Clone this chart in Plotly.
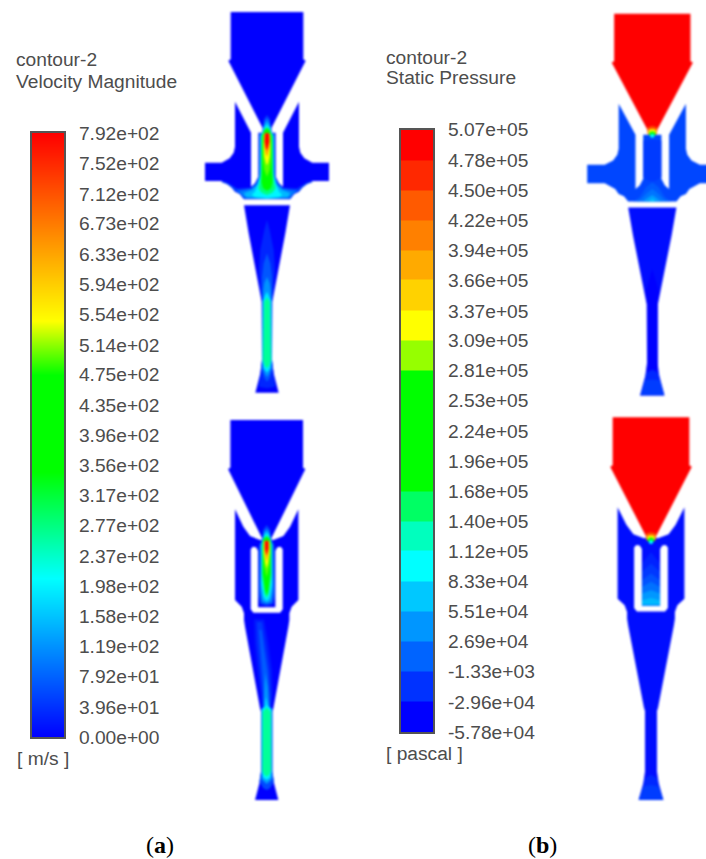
import plotly.graph_objects as go

# ---------- colour bar data ----------
VEL_LABELS = ["7.92e+02","7.52e+02","7.12e+02","6.73e+02","6.33e+02","5.94e+02","5.54e+02","5.14e+02",
              "4.75e+02","4.35e+02","3.96e+02","3.56e+02","3.17e+02","2.77e+02","2.37e+02","1.98e+02",
              "1.58e+02","1.19e+02","7.92e+01","3.96e+01","0.00e+00"]
PRES_LABELS = ["5.07e+05","4.78e+05","4.50e+05","4.22e+05","3.94e+05","3.66e+05","3.37e+05","3.09e+05",
               "2.81e+05","2.53e+05","2.24e+05","1.96e+05","1.68e+05","1.40e+05","1.12e+05","8.33e+04",
               "5.51e+04","2.69e+04","-1.33e+03","-2.96e+04","-5.78e+04"]
VEL_VALUES = [float(s) for s in VEL_LABELS]
PRES_VALUES = [float(s) for s in PRES_LABELS]
PRES_BANDS = ["rgb(255,0,0)","rgb(255,40,0)","rgb(255,90,0)","rgb(255,128,0)","rgb(255,170,0)","rgb(255,210,0)",
              "rgb(255,255,0)","rgb(150,255,0)","rgb(0,255,0)","rgb(0,255,0)","rgb(0,255,0)","rgb(0,255,0)",
              "rgb(0,255,100)","rgb(0,255,190)","rgb(0,255,255)","rgb(0,200,255)","rgb(0,150,255)",
              "rgb(0,100,255)","rgb(0,50,255)","rgb(0,0,255)"]
RAINBOW = [(0.0,(0,0,255)),(0.263,(0,255,255)),(0.44,(0,255,0)),(0.60,(0,255,0)),(0.69,(255,255,0)),(1.0,(255,0,0))]

# ---------- device outlines: half profiles (distance from axis, distance along axis) ----------
TOP_CONE = [(0,36),(109,36),(109,178),(116,182),(13,385),(13,396),(0,400)]
TOP_BODY = [(0,398),(26,398),(26,530),(36,550),(48,560),(48,398),(96,305),(96,440),(100,458),(112,475),(136,488),
            (186,488),(186,543),(136,543),(106,560),(96,575),(81,582),(69,598),(0,598)]
TOP_NOZZLE = [(0,616),(69,616),(55,700),(37,800),(21,880),(16,905),(15,1080),(20,1120),(35,1178),(0,1178)]
BOT_CONE = [(0,30),(109,30),(109,173),(116,177),(14,385),(13,392),(0,394)]
BOT_BODY = [(0,388),(20,390),(50,378),(70,350),(95,298),(95,570),(75,590),(68,610),(68,630),(65,650),(20,895),
            (17,905),(17,1085),(22,1120),(35,1170),(0,1170)]
BOT_SLOT = [(0,592),(26,592),(26,422),(32,412),(42,410),(48,418),(48,598),(40,608),(0,608)]

# ---------- velocity magnitude contour levels (m/s) ----------
VEL_TOP = [
 (50,[(0,345),(9,357),(13,385),(14,398),(24,400),(25,530),(34,550),(48,563),(90,566),(118,548),(136,543),(136,547),
      (120,552),(106,563),(97,574),(82,582),(70,597),(0,597)]),
 (100,[(0,355),(6,362),(12,385),(13,398),(22,402),(23,530),(32,552),(48,566),(80,572),(92,570),(82,578),(68,594),(0,597)]),
 (150,[(0,365),(6,372),(11,385),(12,398),(20,405),(21,530),(30,555),(45,570),(70,580),(62,592),(0,596)]),
 (200,[(0,375),(8,382),(11,392),(19,410),(20,520),(26,550),(36,575),(46,585),(35,592),(0,595)]),
 (280,[(0,381),(8,388),(11,396),(17,408),(18,520),(21,545),(26,565),(16,578),(0,585)]),
 (350,[(0,385),(7,390),(10,398),(15,408),(16,510),(17,545),(12,565),(0,572)]),
 (500,[(0,400),(10,402),(12,440),(12,480),(8,510),(0,530)]),
 (546,[(0,400),(9,402),(10,440),(8,470),(3,490),(0,495)]),
 (640,[(0,400),(8,402),(8,440),(4,460),(0,470)]),
 (790,[(0,400),(6,400),(7,425),(3,445),(0,450)]),
 (30,[(0,660),(8,690),(20,750),(24,810),(20,870),(15,905),(15,1080),(19,1115),(25,1160),(0,1165)]),
 (70,[(0,760),(10,790),(15,830),(16,870),(15,900),(15,1085),(16,1110),(8,1135),(0,1145)]),
 (120,[(0,830),(8,850),(11,870),(13,895),(14,1085),(13,1105),(5,1125),(0,1130)]),
 (190,[(0,875),(7,888),(12,902),(13,1085),(10,1105),(0,1118)]),
 (265,[(0,892),(9,905),(12,1080),(7,1098),(0,1104)]),
]
VEL_BOT = [
 (50,[(0,345),(10,358),(13,385),(24,410),(25,560),(20,582),(0,588)]),
 (100,[(0,355),(9,365),(12,385),(20,405),(21,545),(15,578),(0,582)]),
 (150,[(0,362),(8,372),(11,385),(17,405),(18,530),(12,570),(0,578)]),
 (200,[(0,370),(8,378),(11,390),(15,405),(16,520),(9,560),(0,572)]),
 (280,[(0,376),(9,384),(11,392),(14,405),(14,500),(7,550),(0,565)]),
 (350,[(0,380),(9,387),(11,395),(12,410),(12,490),(5,540),(0,555)]),
 (500,[(0,392),(10,394),(10,430),(8,465),(3,490),(0,500)]),
 (546,[(0,392),(8,394),(9,425),(5,455),(0,475)]),
 (640,[(0,392),(7,394),(7,420),(3,440),(0,455)]),
 (790,[(0,392),(5,394),(5,415),(2,430),(0,435)]),
 (60,[(0,895),(17,895),(17,1085),(22,1115),(10,1135),(0,1140)]),
 (130,[(0,885),(15,897),(15,1085),(15,1108),(0,1122)]),
 (200,[(0,885),(14,897),(14,1085),(11,1102),(0,1110)]),
 (265,[(0,892),(12,905),(13,1082),(8,1094),(0,1100)]),
]
# the asymmetric jet tail in the lower device, full outlines
VEL_BOT_TAIL = [
 (20,[(-38,628),(-8,628),(5,700),(16,780),(18,850),(14,895),(-14,895),(-18,850),(-28,780),(-36,700)]),
 (45,[(-30,636),(-14,636),(-4,700),(8,780),(12,850),(12,895),(-12,895),(-13,850),(-20,780),(-28,700)]),
 (75,[(-22,660),(-16,660),(-8,720),(3,790),(8,850),(10,895),(-10,895),(-10,850),(-13,790),(-18,720)]),
 (120,[(-4,790),(3,830),(7,895),(-8,895),(-8,850)]),
 (170,[(-2,860),(4,880),(7,897),(-7,897),(-5,875)]),
]

# ---------- static pressure contour levels (Pa) ----------
P_INLET = 5.07e5
P_TIP = [
 (4.5e5,[(0,372),(14,376),(14,385),(13,396),(0,398)]),
 (3.3e5,[(0,381),(10,383),(12,392),(8,398),(0,399)]),
 (1.9e5,[(0,388),(7,390),(10,396),(6,402),(0,402)]),
 (9.0e4,[(0,395),(5,397),(6,404),(0,408)]),
]
P_TOP_BODY = -17000
P_TOP = [
 (-24000,[(0,412),(26,415),(26,525),(12,535),(0,538)]),
 (-5000,[(0,540),(18,555),(36,585),(55,597),(0,597)]),
 (10000,[(0,560),(15,572),(32,590),(45,597),(0,597)]),
 (35400,[(0,578),(18,590),(25,597),(0,597)]),
 (70000,[(0,591),(10,597),(0,597)]),
]
P_TOP_NOZZLE = -50000
P_TOP_N_LEVELS = [
 (-57800,[(0,800),(20,870),(15,905),(14,1080),(16,1100),(0,1105)]),
 (-35000,[(0,1100),(18,1112),(22,1130),(34,1177),(0,1177)]),
 (-22800,[(0,1130),(22,1132),(34,1177),(0,1177)]),
]
P_BOT_BODY = -50000
P_BOT = [
 (-38000,[(0,432),(26,465),(26,590),(0,590)]),
 (-25000,[(0,465),(26,490),(26,590),(0,590)]),
 (-10000,[(0,495),(26,515),(26,590),(0,590)]),
 (8000,[(0,520),(26,535),(26,590),(0,590)]),
 (30000,[(0,545),(26,555),(26,590),(0,590)]),
 (50000,[(0,568),(26,575),(26,590),(0,590)]),
 (-35000,[(0,1095),(18,1105),(22,1125),(35,1169),(0,1169)]),
 (-22800,[(0,1125),(22,1130),(35,1169),(0,1169)]),
]

# where each device sits: axis position, top offset, x scale, y scale (reference zoom units are 3 per pixel)
PLACE = {"a_top":(267.0,0.0,1.0,1.0), "a_bot":(266.7,410.0,1.0,1.0),
         "b_top":(652.3,1.67,1.05,1.003), "b_bot":(651.0,407.3,1.055,1.007)}


def rainbow(t):
    t = max(0.0, min(1.0, t))
    for (t0, c0), (t1, c1) in zip(RAINBOW, RAINBOW[1:]):
        if t <= t1:
            f = (t - t0) / (t1 - t0)
            return "rgb(%d,%d,%d)" % tuple(round(a + f * (b - a)) for a, b in zip(c0, c1))
    return "rgb(255,0,0)"


def vel_col(v):
    return rainbow(v / VEL_VALUES[0])


def pres_col(p):
    return rainbow((p - PRES_VALUES[-1]) / (PRES_VALUES[0] - PRES_VALUES[-1]))


fig = go.Figure()


def poly(profile, place, color, mirror=True):
    cx, y0, sx, sy = PLACE[place]
    pts = list(profile)
    if mirror:
        pts = pts + [(-d, y) for d, y in reversed(profile)]
    fig.add_trace(go.Scatter(x=[cx + sx * d / 3 for d, _ in pts], y=[y0 + sy * y / 3 for _, y in pts],
                             mode="lines", fill="toself", fillcolor=color, line=dict(width=0, color=color),
                             hoverinfo="skip", showlegend=False))


BLUE = "rgb(0,0,255)"
# (a) upper
poly(TOP_BODY, "a_top", BLUE); poly(TOP_NOZZLE, "a_top", BLUE); poly(TOP_CONE, "a_top", BLUE)
for v, pr in VEL_TOP:
    poly(pr, "a_top", vel_col(v))
# (a) lower
poly(BOT_BODY, "a_bot", BLUE); poly(BOT_CONE, "a_bot", BLUE)
for v, pr in VEL_BOT_TAIL:
    poly(pr, "a_bot", vel_col(v), mirror=False)
for v, pr in VEL_BOT:
    poly(pr, "a_bot", vel_col(v))
poly(BOT_SLOT, "a_bot", "white")
# (b) upper
poly(TOP_BODY, "b_top", pres_col(P_TOP_BODY)); poly(TOP_NOZZLE, "b_top", pres_col(P_TOP_NOZZLE))
for p, pr in P_TOP:
    poly(pr, "b_top", pres_col(p))
for p, pr in P_TOP_N_LEVELS:
    poly(pr, "b_top", pres_col(p))
poly(TOP_CONE, "b_top", pres_col(P_INLET))
for p, pr in P_TIP:
    poly(pr, "b_top", pres_col(p))
# (b) lower
poly(BOT_BODY, "b_bot", pres_col(P_BOT_BODY))
for p, pr in P_BOT:
    poly(pr, "b_bot", pres_col(p))
poly(BOT_SLOT, "b_bot", "white")
poly(BOT_CONE, "b_bot", pres_col(P_INLET))
for p, pr in P_TIP:
    poly(pr, "b_bot", pres_col(p))

# colour bars
W, H = 706, 859
fig.add_trace(go.Heatmap(x=[0, 1], y=VEL_VALUES[::-1], z=[[v, v] for v in VEL_VALUES[::-1]], xaxis="x2", yaxis="y2",
                         zsmooth="best", zmin=VEL_VALUES[-1], zmax=VEL_VALUES[0], showscale=False, hoverinfo="skip",
                         colorscale=[[t, "rgb(%d,%d,%d)" % c] for t, c in RAINBOW]))
pmin, pmax = PRES_VALUES[-1], PRES_VALUES[0]
p_asc = PRES_VALUES[::-1]
b_asc = PRES_BANDS[::-1]
step = []
for i, c in enumerate(b_asc):
    step += [[(p_asc[i] - pmin) / (pmax - pmin), c], [(p_asc[i + 1] - pmin) / (pmax - pmin), c]]
fig.add_trace(go.Heatmap(x=[0, 1], y=p_asc, z=[[(p_asc[i] + p_asc[i + 1]) / 2] for i in range(len(b_asc))],
                         xaxis="x3", yaxis="y3", zmin=pmin, zmax=pmax, showscale=False, hoverinfo="skip",
                         colorscale=step))

TEXT = "#4d4d4d"
FONT = "Liberation Sans"
SIZE = 19.2


def bar_axes(vals, labels, x0, x1, ytop, ybot, xname):
    xa = dict(domain=[x0 / W, x1 / W], range=[0, 1], showticklabels=False, ticks="", showgrid=False, zeroline=False,
              showline=True, mirror=True, linecolor="#555", linewidth=1.5, anchor=xname.replace("x", "y"))
    ya = dict(domain=[1 - ybot / H, 1 - ytop / H], range=[min(vals), max(vals)], side="right", tickmode="array",
              tickvals=vals, ticktext=labels, ticks="", ticklabelstandoff=9, showgrid=False, zeroline=False,
              showline=True, mirror=True, linecolor="#555", linewidth=1.5, anchor=xname,
              tickfont=dict(family=FONT, size=SIZE, color=TEXT))
    return xa, ya


xa2, ya2 = bar_axes(VEL_VALUES, VEL_LABELS, 32, 64.3, 133, 737, "x2")
xa3, ya3 = bar_axes(PRES_VALUES, PRES_LABELS, 401, 433.3, 129.5, 732, "x3")


def note(x, y, text, size=SIZE, family=FONT, color=TEXT):
    return dict(x=x, y=y, xref="x", yref="y", text=text, showarrow=False, xanchor="left", yanchor="middle",
                align="left", font=dict(family=family, size=size, color=color))


TITLES = [(14, 59, "contour-2"), (14, 81, "Velocity Magnitude"), (15, 758, "[ m/s ]"),
          (384, 57, "contour-2"), (384, 77, "Static Pressure"), (384, 753, "[ pascal ]")]
PANELS = [(144, 845, "(<b>a</b>)"), (526, 845, "(<b>b</b>)")]
ann = [note(*t) for t in TITLES] + [note(x, y, s, size=24, family="Liberation Serif", color="black") for x, y, s in PANELS]

fig.update_layout(
    width=W, height=H, autosize=False, margin=dict(l=0, r=0, t=0, b=0, autoexpand=False), paper_bgcolor="white",
    plot_bgcolor="rgba(0,0,0,0)", showlegend=False, annotations=ann,
    xaxis=dict(domain=[0, 1], range=[0, W], visible=False, fixedrange=True),
    yaxis=dict(domain=[0, 1], range=[H, 0], visible=False, fixedrange=True),
    xaxis2=xa2, yaxis2=ya2, xaxis3=xa3, yaxis3=ya3,
)
POST = ("document.body.style.margin='0';"
        "document.querySelectorAll('.scatterlayer').forEach(function(e){e.style.filter='blur(0.8px)';});")
fig.write_html("out.html", post_script=POST, config={"displayModeBar": False})
